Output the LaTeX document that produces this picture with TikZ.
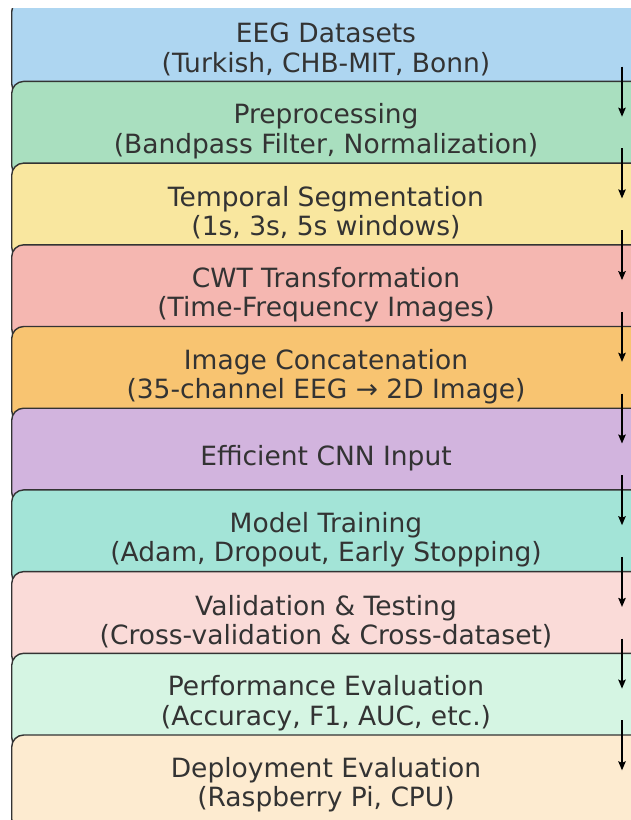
\documentclass[tikz,border=0pt]{standalone}
\usepackage{fontspec}
\setmainfont{DejaVu Sans}
\usetikzlibrary{arrows.meta}
\definecolor{c1}{HTML}{AED6F1}
\definecolor{c2}{HTML}{A9DFBF}
\definecolor{c3}{HTML}{F9E79F}
\definecolor{c4}{HTML}{F5B7B1}
\definecolor{c5}{HTML}{F8C471}
\definecolor{c6}{HTML}{D2B4DE}
\definecolor{c7}{HTML}{A3E4D7}
\definecolor{c8}{HTML}{FADBD8}
\definecolor{c9}{HTML}{D5F5E3}
\definecolor{c10}{HTML}{FDEBD0}
\definecolor{txt}{HTML}{333333}
\definecolor{edge}{HTML}{333333}
\begin{document}
\begin{tikzpicture}[x=1pt,y=-1pt,
  stagebox/.style={draw=edge, line width=1.4pt, rounded corners=12pt,
    anchor=north west, minimum width=700pt, minimum height=96pt, inner sep=0pt},
  lbl/.style={text=txt, align=center, inner sep=0pt,
    font=\fontsize{26.5}{29.2}\selectfont},
  arr/.style={draw=black, line width=1.4pt, -{Stealth[length=9pt,width=7.5pt,inset=1.5pt]}}]
\useasboundingbox (0,0) rectangle (631,820);
\fill[white] (0,0) rectangle (631,820);
\begin{scope}
\clip (0,8) rectangle (631,820);
\foreach \i/\c/\t in {
  1/c1/{EEG Datasets\\(Turkish, CHB-MIT, Bonn)},
  2/c2/{Preprocessing\\(Bandpass Filter, Normalization)},
  3/c3/{Temporal Segmentation\\(1s, 3s, 5s windows)},
  4/c4/{CWT Transformation\\(Time-Frequency Images)},
  5/c5/{Image Concatenation\\(35-channel EEG → 2D Image)},
  6/c6/{Efficient CNN Input},
  7/c7/{Model Training\\(Adam, Dropout, Early Stopping)},
  8/c8/{Validation \& Testing\\(Cross-validation \& Cross-dataset)},
  9/c9/{Performance Evaluation\\(Accuracy, F1, AUC, etc.)},
  10/c10/{Deployment Evaluation\\(Raspberry Pi, CPU)}}{
  \pgfmathsetmacro{\T}{-1+81.7*(\i-1)}
  \node[stagebox, fill=\c] (b\i) at (11,\T) {};
  \node[lbl] (t\i) at (326,\T+50.5) {\t};
}
\foreach \i in {2,...,10}{
  \pgfmathsetmacro{\T}{-1+81.7*(\i-1)}
  \pgfmathtruncatemacro{\p}{\i-1}
  \coordinate (s\p) at (622,\T-14);
  \coordinate (e\p) at (622,\T+36);
  \draw[arr] (s\p) -- (e\p);
}
\end{scope}
\end{tikzpicture}
\end{document}
